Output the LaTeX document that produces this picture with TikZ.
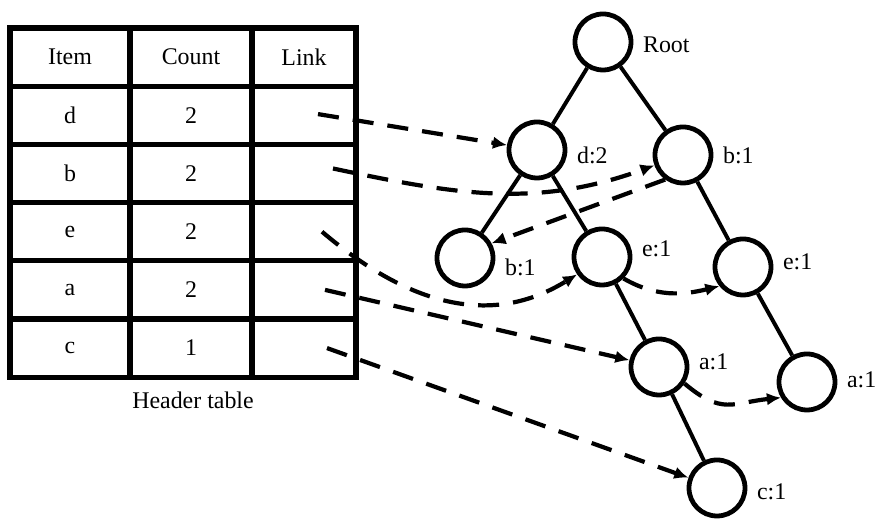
\documentclass[tikz,border=0pt]{standalone}
\usepackage{fontspec}
\setmainfont{Liberation Serif}
\usetikzlibrary{arrows.meta,positioning}

\begin{document}
\begin{tikzpicture}[
    cell/.style={rectangle, draw, line width=3.8pt, minimum height=1.455cm,
                 inner sep=0pt},
    fpnode/.style={circle, draw, line width=3.4pt, minimum size=1.4cm,
                   inner sep=0pt},
    lbl/.style={inner sep=1pt},
    branch/.style={line width=2.8pt},
    dlink/.style={-{Latex[length=10pt,width=9pt]}, line width=3pt,
                  dash pattern=on 15pt off 10pt},
    every node/.style={font=\fontsize{17}{20}\selectfont}
  ]
  \useasboundingbox (0,0) rectangle (21.925,13);

  % ---- Header table ----
  \node[cell, minimum width=3cm]    (hitem)  at (1.75,11.5725)  {Item};
  \node[cell, minimum width=3.05cm] (hcount) at (4.775,11.5725) {Count};
  \node[cell, minimum width=2.6cm]  (hlink)  at (7.6,11.5725)   {Link};
  \foreach \itm/\cnt [count=\i] in {d/2,b/2,e/2,a/2,c/1}{
    \node[cell, minimum width=3cm]    (item\itm)  at (1.75,11.5725-1.455*\i)  {\itm};
    \node[cell, minimum width=3.05cm] (count\itm) at (4.775,11.5725-1.455*\i) {\cnt};
    \node[cell, minimum width=2.6cm]  (link\itm)  at (7.6,11.5725-1.455*\i)   {};
  }
  \node (htitle) at (4.825,3.0) {Header table};

  % ---- FP-tree ----
  \node[fpnode] (root) at (15.075,11.95) {};
  \node[fpnode] (d2)   at (13.425,9.25)  {};
  \node[fpnode] (b1r)  at (17.075,9.125) {};
  \node[fpnode] (b1l)  at (11.625,6.55)  {};
  \node[fpnode] (e1m)  at (15.05,6.575)  {};
  \node[fpnode] (e1r)  at (18.575,6.325) {};
  \node[fpnode] (a1m)  at (16.475,3.825) {};
  \node[fpnode] (a1r)  at (20.175,3.45)  {};
  \node[fpnode] (c1)   at (17.925,0.8)   {};

  % counts beside the nodes
  \node[lbl, right=0.2cm of root, yshift=-0.075cm] (lroot) {Root};
  \node[lbl, right=0.2cm of d2,   yshift=-0.125cm] (ld2)   {d:2};
  \node[lbl, right=0.2cm of b1r]                   (lb1r)  {b:1};
  \node[lbl, right=0.2cm of b1l,  yshift=-0.225cm] (lb1l)  {b:1};
  \node[lbl, right=0.2cm of e1m,  yshift=0.2cm]    (le1m)  {e:1};
  \node[lbl, right=0.2cm of e1r,  yshift=0.125cm]  (le1r)  {e:1};
  \node[lbl, right=0.2cm of a1m,  yshift=0.125cm]  (la1m)  {a:1};
  \node[lbl, right=0.2cm of a1r,  yshift=0.05cm]   (la1r)  {a:1};
  \node[lbl, right=0.2cm of c1,   yshift=-0.1cm]   (lc1)   {c:1};

  \draw[branch] (root) -- (d2);
  \draw[branch] (root) -- (b1r);
  \draw[branch] (d2) -- (b1l);
  \draw[branch] (d2) -- (e1m);
  \draw[branch] (b1r) -- (e1r);
  \draw[branch] (e1m) -- (a1m);
  \draw[branch] (e1r) -- (a1r);
  \draw[branch] (a1m) -- (c1);

  % ---- Node links ----
  \coordinate (sd) at ([xshift=0.35cm,yshift=0.03cm]linkd.center);
  \coordinate (sb) at ([xshift=0.725cm,yshift=0.125cm]linkb.center);
  \coordinate (se) at ([xshift=0.45cm]linke.center);
  \coordinate (sa) at ([xshift=0.525cm]linka.center);
  \coordinate (sc) at ([xshift=0.575cm]linkc.center);

  \draw[dlink] (sd) -- (d2);
  \draw[dlink] (sb) to[out=-12, in=200] (b1r);
  \draw[dlink] (se) .. controls (10.5,5.125) and (12.5,4.95) .. (e1m.215);
  \draw[dlink] (sa) -- (a1m);
  \draw[dlink] (sc) -- (c1);
  \draw[dlink] (b1r.234) -- (b1l.29);
  \draw[dlink] (e1m.-45) to[out=-30, in=194] (e1r.219);
  \draw[dlink] (a1m.-33) to[out=-40, in=186, looseness=1.3] (a1r.211);

\end{tikzpicture}
\end{document}
